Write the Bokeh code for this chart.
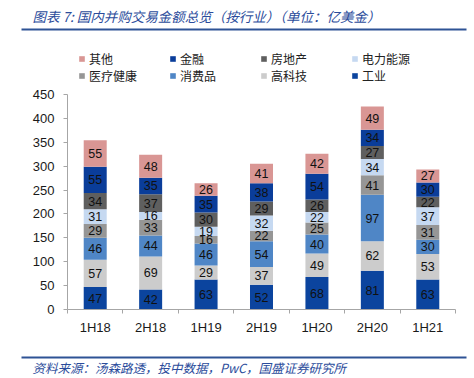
from bokeh.plotting import figure
from bokeh.models import (ColumnDataSource, Range1d, FixedTicker, Legend, LegendItem,
                          LinearAxis, Label)
from bokeh.core.properties import value
from bokeh.embed import file_html
from bokeh.resources import INLINE

categories = ["1H18", "2H18", "1H19", "2H19", "1H20", "2H20", "1H21"]
series_names = ["工业", "高科技", "消费品", "医疗健康", "电力能源", "房地产", "金融", "其他"]
gongye   = [47, 42, 63, 52, 68, 81, 63]
gaokeji  = [57, 69, 29, 37, 49, 62, 53]
xiaofei  = [46, 44, 46, 54, 40, 97, 30]
yiliao   = [29, 33, 16, 22, 25, 41, 31]
dianli   = [31, 16, 19, 32, 22, 34, 37]
fangdi   = [34, 37, 30, 29, 26, 27, 22]
jinrong  = [55, 35, 35, 38, 54, 34, 30]
qita     = [55, 48, 26, 41, 42, 49, 27]
y_ticks = [0, 50, 100, 150, 200, 250, 300, 350, 400, 450]
title_text = "图表 7: 国内并购交易金额总览（按行业）（单位：亿美金）"
source_text = "资料来源：汤森路透，投中数据，PwC，国盛证券研究所"

colors = ["#0B449E", "#CCCCCC", "#4F86C6", "#969696", "#C6D9F1", "#5F5F5F", "#0A3D9A", "#D99694"]
series = [gongye, gaokeji, xiaofei, yiliao, dianli, fangdi, jinrong, qita]

# ---- pixel geometry of the canvas (canvas = frame) ----
W, H = 474, 378
AX_L, AX_R = 67, 455      # plot area left/right
AX_T, AX_B = 94, 309      # y=450 / y=0
YMAX = 450
n = len(categories)
sx = (AX_R - AX_L) / n
sy = (AX_B - AX_T) / YMAX
x_start = -AX_L / sx
x_end = n + (W - AX_R) / sx
y_start = -(H - AX_B) / sy
y_end = YMAX + AX_T / sy

def X(px):
    return x_start + px / sx

def Y(py):
    return y_end - py / sy

xs = [i + 0.5 for i in range(n)]
data = {"x": xs}
for name, vals in zip(series_names, series):
    data[name] = vals
src = ColumnDataSource(data)

p = figure(width=W, height=H, output_backend="svg", toolbar_location=None,
           x_range=Range1d(x_start, x_end), y_range=Range1d(y_start, y_end),
           x_axis_location=None, y_axis_location=None,
           min_border_left=0, min_border_right=0, min_border_top=0, min_border_bottom=0)
p.outline_line_color = None
p.xgrid.grid_line_color = None
p.ygrid.grid_line_color = None

rends = p.vbar_stack(series_names, x="x", width=0.415, source=src, color=colors, line_color=None)

# data labels
lx, ly, lt = [], [], []
for j, x in enumerate(xs):
    base = 0
    for vals in series:
        v = vals[j]
        lx.append(x); ly.append(base + v / 2); lt.append(str(v))
        base += v
p.text(x=lx, y=ly, text=lt, text_align="center", text_baseline="middle",
       text_font=value("Liberation Sans"), text_font_size="12.5px", text_color="#111111")

# axes (fixed inside the canvas)
xaxis = LinearAxis(fixed_location=0, bounds=(0, n),
                   ticker=FixedTicker(ticks=xs, minor_ticks=list(range(n + 1))),
                   major_label_overrides={x: c for x, c in zip(xs, categories)},
                   major_tick_line_color=None, major_tick_in=0, major_tick_out=5,
                   minor_tick_in=0, minor_tick_out=4, minor_tick_line_color="#A6A6A6",
                   axis_line_color="#A6A6A6", major_label_standoff=5)
yaxis = LinearAxis(fixed_location=0, bounds=(0, YMAX),
                   ticker=FixedTicker(ticks=y_ticks),
                   minor_tick_line_color=None, major_tick_in=0, major_tick_out=4,
                   major_tick_line_color="#A6A6A6", axis_line_color="#A6A6A6",
                   major_label_standoff=9)
for ax in (xaxis, yaxis):
    ax.major_label_text_font = "Liberation Sans"
    ax.major_label_text_font_size = "13px"
    ax.major_label_text_color = "#1a1a1a"
p.add_layout(xaxis, "below")
p.add_layout(yaxis, "left")

# legend
items = [LegendItem(label=nm, renderers=[r]) for nm, r in zip(series_names[::-1], rends[::-1])]
legend = Legend(items=items, ncols=4, orientation="horizontal", location=(78, H - 84),
                border_line_color=None, background_fill_alpha=0, padding=0, margin=0,
                glyph_width=7, glyph_height=7, label_width=80, label_height=15, spacing=0,
                label_standoff=4, label_text_font="Noto Sans CJK SC",
                label_text_font_size="12px", label_text_color="#222222")
p.add_layout(legend, "center")

# title, source and rules
title_style = dict(text_font="Noto Sans CJK SC", text_font_style="italic",
                   text_color="#2B4C9B", text_baseline="middle", text_align="left")
p.add_layout(Label(x=X(32), y=Y(15), text=title_text, text_font_size="13.5px", **title_style))
p.add_layout(Label(x=X(32), y=Y(367), text=source_text, text_font_size="12.5px", **title_style))
p.segment(x0=[X(21), X(21)], y0=[Y(29), Y(357)], x1=[X(466), X(466)], y1=[Y(29), Y(357)],
          line_color="#2E5395", line_width=2)

open("out.html", "w").write(file_html(p, INLINE))
